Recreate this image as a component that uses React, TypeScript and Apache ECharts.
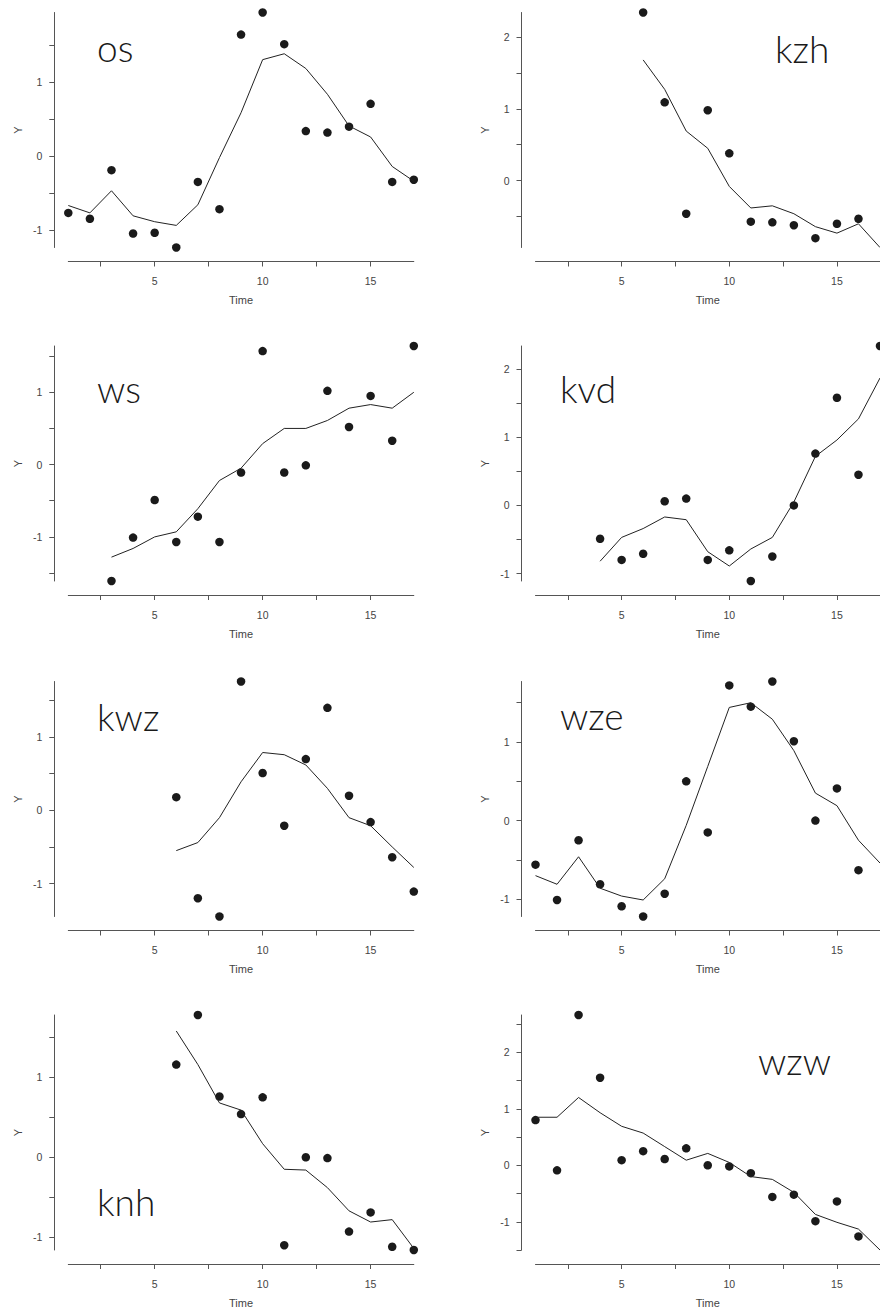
import React, { useEffect, useRef } from "react";
import * as echarts from "echarts";

const times = [1, 2, 3, 4, 5, 6, 7, 8, 9, 10, 11, 12, 13, 14, 15, 16, 17];
const panelNames = ["os", "kzh", "ws", "kvd", "kwz", "wze", "knh", "wzw"];

const xTickValues = [2.5, 5, 7.5, 10, 12.5, 15];
const xLabelValues = [5, 10, 15];

const osPoints = [-0.77, -0.85, -0.19, -1.05, -1.04, -1.24, -0.35, -0.72, 1.65, 1.95, 1.52, 0.34, 0.32, 0.4, 0.71, -0.35, -0.32];
const osFit = [-0.67, -0.77, -0.47, -0.81, -0.89, -0.94, -0.66, -0.02, 0.59, 1.31, 1.39, 1.19, 0.84, 0.41, 0.26, -0.14, -0.34];
const osYTicks = [-1, -0.5, 0, 0.5, 1, 1.5];
const osYLabels = [-1, 0, 1];

const kzhPoints = [null, null, null, null, null, 2.34, 1.09, -0.46, 0.98, 0.38, -0.57, -0.58, -0.62, -0.8, -0.6, -0.53, null];
const kzhFit = [null, null, null, null, null, 1.68, 1.27, 0.69, 0.45, -0.08, -0.38, -0.35, -0.46, -0.64, -0.73, -0.6, -0.93];
const kzhYTicks = [-0.5, 0, 0.5, 1, 1.5, 2];
const kzhYLabels = [0, 1, 2];

const wsPoints = [null, null, -1.61, -1.01, -0.49, -1.07, -0.72, -1.07, -0.11, 1.57, -0.11, -0.01, 1.02, 0.52, 0.95, 0.33, 1.64];
const wsFit = [null, null, -1.28, -1.16, -1.0, -0.93, -0.61, -0.22, -0.05, 0.29, 0.5, 0.5, 0.61, 0.78, 0.83, 0.78, 1.0];
const wsYTicks = [-1.5, -1, -0.5, 0, 0.5, 1, 1.5];
const wsYLabels = [-1, 0, 1];

const kvdPoints = [null, null, null, -0.49, -0.8, -0.71, 0.06, 0.1, -0.8, -0.66, -1.11, -0.75, 0.0, 0.76, 1.58, 0.45, 2.34];
const kvdFit = [null, null, null, -0.82, -0.47, -0.34, -0.17, -0.21, -0.68, -0.89, -0.64, -0.47, 0.05, 0.72, 0.96, 1.27, 1.87];
const kvdYTicks = [-1, -0.5, 0, 0.5, 1, 1.5, 2];
const kvdYLabels = [-1, 0, 1, 2];

const kwzPoints = [null, null, null, null, null, 0.18, -1.2, -1.45, 1.76, 0.51, -0.21, 0.7, 1.4, 0.2, -0.16, -0.64, -1.11];
const kwzFit = [null, null, null, null, null, -0.55, -0.44, -0.1, 0.39, 0.79, 0.76, 0.62, 0.3, -0.1, -0.21, -0.5, -0.78];
const kwzYTicks = [-1, -0.5, 0, 0.5, 1, 1.5];
const kwzYLabels = [-1, 0, 1];

const wzePoints = [-0.56, -1.01, -0.25, -0.81, -1.09, -1.22, -0.93, 0.5, -0.15, 1.72, 1.45, 1.77, 1.01, 0.0, 0.41, -0.63, null];
const wzeFit = [-0.7, -0.81, -0.46, -0.86, -0.96, -1.01, -0.74, -0.06, 0.69, 1.44, 1.5, 1.29, 0.89, 0.35, 0.19, -0.25, -0.54];
const wzeYTicks = [-1, -0.5, 0, 0.5, 1, 1.5];
const wzeYLabels = [-1, 0, 1];

const knhPoints = [null, null, null, null, null, 1.16, 1.78, 0.76, 0.54, 0.75, -1.1, 0.0, -0.01, -0.93, -0.69, -1.12, -1.16];
const knhFit = [null, null, null, null, null, 1.58, 1.16, 0.68, 0.59, 0.17, -0.15, -0.16, -0.38, -0.67, -0.81, -0.78, -1.14];
const knhYTicks = [-1, -0.5, 0, 0.5, 1, 1.5];
const knhYLabels = [-1, 0, 1];

const wzwPoints = [0.8, -0.09, 2.66, 1.55, 0.09, 0.25, 0.11, 0.3, 0.0, -0.02, -0.14, -0.56, -0.52, -0.99, -0.64, -1.26, null];
const wzwFit = [0.85, 0.85, 1.2, 0.93, 0.69, 0.57, 0.33, 0.09, 0.21, 0.05, -0.2, -0.25, -0.48, -0.87, -1.01, -1.13, -1.5];
const wzwYTicks = [-1.5, -1, -0.5, 0, 0.5, 1, 1.5, 2, 2.5];
const wzwYLabels = [-1, 0, 1, 2];

const panelPoints = [osPoints, kzhPoints, wsPoints, kvdPoints, kwzPoints, wzePoints, knhPoints, wzwPoints];
const panelFits = [osFit, kzhFit, wsFit, kvdFit, kwzFit, wzeFit, knhFit, wzwFit];
const panelYTicks = [osYTicks, kzhYTicks, wsYTicks, kvdYTicks, kwzYTicks, wzeYTicks, knhYTicks, wzwYTicks];
const panelYLabels = [osYLabels, kzhYLabels, wsYLabels, kvdYLabels, kwzYLabels, wzeYLabels, knhYLabels, wzwYLabels];

function pairs(vals: (number | null)[]) {
  const out: number[][] = [];
  vals.forEach((v, i) => {
    if (v !== null && v !== undefined) out.push([times[i], v]);
  });
  return out;
}

export default function App() {
  const ref = useRef<HTMLDivElement>(null);

  useEffect(() => {
    if (!ref.current) return;
    const chart = echarts.init(ref.current, undefined, { renderer: "svg" });

    const colLeft = [68.3, 535.5];
    const rowTop = [12.5, 346, 681.5, 1015];
    const gridW = 345.5;
    const gridH = 235;
    const titlePos = [
      [97, 59],
      [775, 60],
      [97, 400],
      [560, 400],
      [97, 728],
      [560, 727],
      [97, 1213],
      [758, 1072],
    ];
    const axisColor = "#555";
    const labelColor = "#444";
    const font = "'Liberation Sans', Arial, sans-serif";

    const grids: any[] = [];
    const xAxes: any[] = [];
    const yAxes: any[] = [];
    const series: any[] = [];
    const graphics: any[] = [];

    panelNames.forEach((name, i) => {
      const col = i % 2;
      const row = Math.floor(i / 2);
      grids.push({ left: colLeft[col], top: rowTop[row], width: gridW, height: gridH });
      const all = [...panelPoints[i], ...panelFits[i]].filter((v) => v !== null) as number[];
      const ymin = Math.min(...all);
      const ymax = Math.max(...all);
      xAxes.push({
        type: "value",
        gridIndex: i,
        min: 1,
        max: 17,
        offset: 14,
        axisLine: { show: true, onZero: false, lineStyle: { color: axisColor, width: 1 } },
        axisTick: { show: true, length: 5, customValues: xTickValues, lineStyle: { color: axisColor, width: 1 } },
        axisLabel: { customValues: xLabelValues, margin: 14, fontSize: 10.5, color: labelColor, fontFamily: font },
        splitLine: { show: false },
        name: "Time",
        nameLocation: "middle",
        nameGap: 33,
        nameTextStyle: { fontSize: 11, color: labelColor, fontFamily: font },
      });
      yAxes.push({
        type: "value",
        gridIndex: i,
        min: ymin,
        max: ymax,
        offset: 14,
        axisLine: { show: true, onZero: false, lineStyle: { color: axisColor, width: 1 } },
        axisTick: { show: true, length: 5, customValues: panelYTicks[i], lineStyle: { color: axisColor, width: 1 } },
        axisLabel: { customValues: panelYLabels[i], margin: 12, fontSize: 10.5, color: labelColor, fontFamily: font },
        splitLine: { show: false },
        name: "Y",
        nameLocation: "middle",
        nameGap: 31,
        nameTextStyle: { fontSize: 11, color: labelColor, fontFamily: font },
      });
      series.push({
        type: "line",
        xAxisIndex: i,
        yAxisIndex: i,
        data: pairs(panelFits[i]),
        symbol: "none",
        showSymbol: false,
        clip: false,
        silent: true,
        lineStyle: { color: "#222", width: 1 },
      });
      series.push({
        type: "scatter",
        xAxisIndex: i,
        yAxisIndex: i,
        data: pairs(panelPoints[i]),
        symbol: "circle",
        symbolSize: 8.5,
        clip: false,
        silent: true,
        itemStyle: { color: "#1a1a1a", opacity: 1 },
      });
      graphics.push({
        type: "text",
        x: titlePos[i][0],
        y: titlePos[i][1] - 12,
        silent: true,
        style: {
          text: name,
          fontSize: 37,
          fontWeight: 300,
          fontFamily: "Lato, 'Open Sans', sans-serif",
          fill: "#1a1a1a",
          align: "left",
          verticalAlign: "middle",
        },
      });
    });

    chart.setOption({
      animation: false,
      backgroundColor: "#fff",
      grid: grids,
      xAxis: xAxes,
      yAxis: yAxes,
      series,
      graphic: graphics,
    });

    return () => chart.dispose();
  }, []);

  return (
    <div
      ref={ref}
      style={{ position: "absolute", left: 0, top: 0, width: 880, height: 1309 }}
    />
  );
}
